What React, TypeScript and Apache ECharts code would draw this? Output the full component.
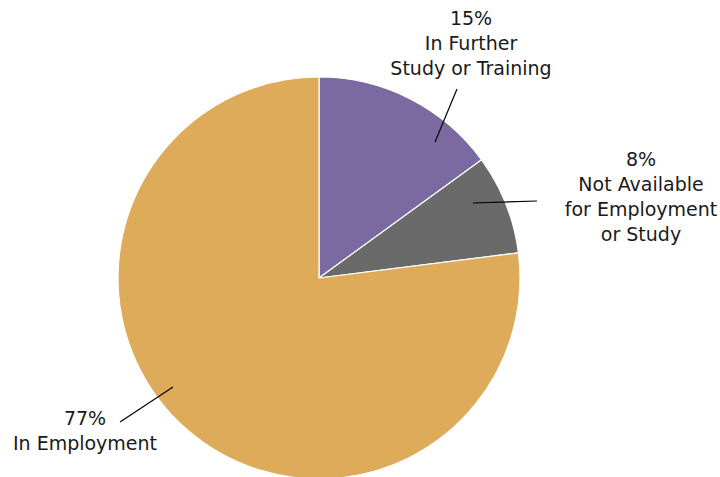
import React, { useEffect, useRef } from "react";
import * as echarts from "echarts";

const categories = ["In Further\nStudy or Training", "Not Available\nfor Employment\nor Study", "In Employment"];
const values = [15, 8, 77];
const colors = ["#7A6AA1", "#6A6A6A", "#DDAB59"];

// label placement (centre of text block) and label line points
const labelPos: [number, number][] = [
  [471, 43],
  [641, 196],
  [85, 430],
];
const linePts: [number, number][][] = [
  [[435, 142], [457, 89]],
  [[473, 203], [537, 201]],
  [[173, 387], [120, 422]],
];

export default function App() {
  const ref = useRef<HTMLDivElement>(null);
  useEffect(() => {
    document.body.style.margin = "0";
    const chart = echarts.init(ref.current!, undefined, { renderer: "svg" });
    const data = categories.map((c, i) => ({
      name: c,
      value: values[i],
      itemStyle: { color: colors[i] },
    }));
    chart.setOption({
      animation: false,
      backgroundColor: "#ffffff",
      series: [
        {
          type: "pie",
          z: 2,
          center: [319, 278],
          radius: 201,
          startAngle: 90,
          clockwise: true,
          data,
          itemStyle: { borderColor: "#ffffff", borderWidth: 1.2 },
          label: { show: false },
          labelLine: { show: false },
          emphasis: { disabled: true },
          silent: true,
        },
        {
          type: "pie",
          z: 5,
          center: [319, 278],
          radius: 201,
          startAngle: 90,
          clockwise: true,
          data: data.map((d) => ({ ...d, itemStyle: { color: "rgba(0,0,0,0)" } })),
          itemStyle: { borderWidth: 0 },
          label: {
            show: true,
            formatter: (p: any) => `${p.value}%\n${p.name}`,
            fontFamily: "DejaVu Sans",
            fontSize: 19,
            lineHeight: 25,
            color: "#1a1a1a",
            align: "center",
            overflow: "none",
            edgeDistance: 0,
            bleedMargin: 0,
          },
          labelLine: {
            show: true,
            lineStyle: { color: "#000000", width: 1.2 },
          },
          labelLayout: (params: any) => {
            const i = params.dataIndex;
            return {
              x: labelPos[i][0],
              y: labelPos[i][1],
              align: "center",
              verticalAlign: "middle",
              labelLinePoints: linePts[i],
            };
          },
          emphasis: { disabled: true },
          silent: true,
        },
      ],
    });
    return () => chart.dispose();
  }, []);
  return <div ref={ref} style={{ width: 720, height: 477 }} />;
}
